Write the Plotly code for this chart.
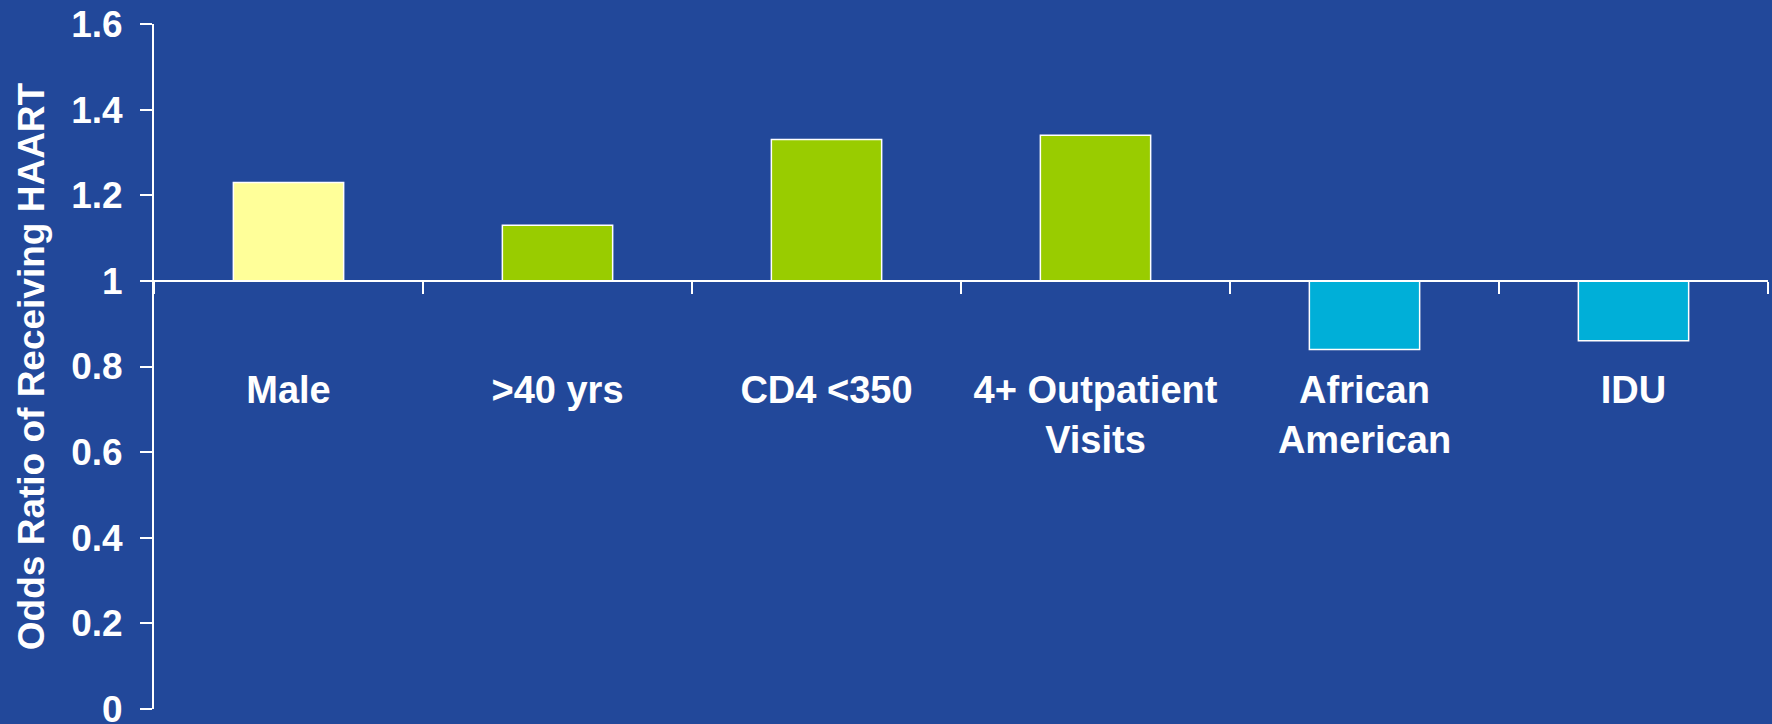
import plotly.graph_objects as go

categories = ["Male", ">40 yrs", "CD4 <350", "4+ Outpatient<br>Visits", "African<br>American", "IDU"]
odds_ratios = [1.23, 1.13, 1.33, 1.34, 0.84, 0.86]
bar_colors = ["#FFFF99", "#99CC00", "#99CC00", "#99CC00", "#00AFD8", "#00AFD8"]
y_ticks = [0, 0.2, 0.4, 0.6, 0.8, 1, 1.2, 1.4, 1.6]
reference_value = 1.0
y_min, y_max = 0, 1.6

BG = "#22489A"
FONT = "Liberation Sans, Arial, sans-serif"

fig = go.Figure()
fig.add_trace(go.Bar(
    x=categories,
    y=[v - reference_value for v in odds_ratios],
    base=reference_value,
    width=0.41,
    marker=dict(color=bar_colors, line=dict(color="white", width=1.5)),
    showlegend=False,
))

fig.update_layout(
    width=1772, height=724,
    margin=dict(l=154, r=4, t=24, b=15),
    paper_bgcolor=BG, plot_bgcolor=BG,
    font=dict(family=FONT, color="white"),
    bargap=0.59,
    xaxis=dict(
        type="category",
        anchor="free",
        position=(reference_value - y_min) / (y_max - y_min),
        automargin=False,
        showline=True, linecolor="white", linewidth=2,
        ticks="outside", ticklen=12, tickwidth=1.5, tickcolor="white",
        tickson="boundaries",
        ticklabelstandoff=76,
        tickfont=dict(family=FONT, size=38, color="white", weight="bold"),
        showgrid=False, zeroline=False,
    ),
    yaxis=dict(
        range=[y_min, y_max],
        automargin=False,
        tickvals=y_ticks,
        ticktext=[f"{t:g}" for t in y_ticks],
        showline=True, linecolor="white", linewidth=2,
        ticks="outside", ticklen=12, tickwidth=1.5, tickcolor="white",
        ticklabelstandoff=10,
        ticklabeloverflow="allow",
        tickfont=dict(family=FONT, size=37, color="white", weight="bold"),
        showgrid=False, zeroline=False,
        title=dict(text="Odds Ratio of Receiving HAART",
                   font=dict(family=FONT, size=37, color="white", weight="bold"),
                   standoff=15),
    ),
)

fig.write_html("out.html")
